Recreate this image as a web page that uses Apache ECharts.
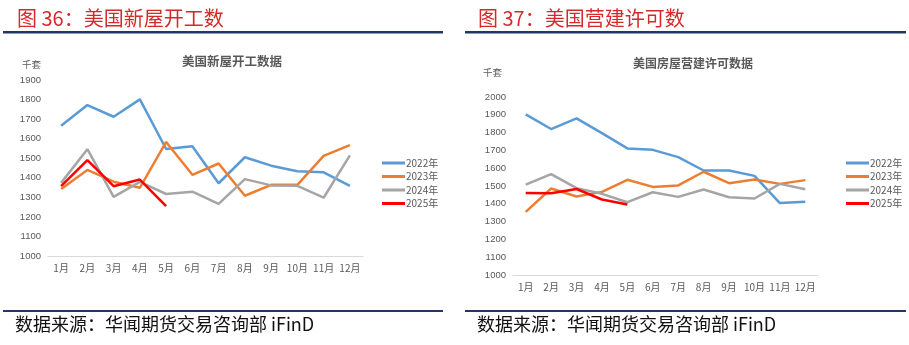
<!DOCTYPE html>
<html><head><meta charset="utf-8">
<script src="https://cdn.jsdelivr.net/npm/echarts@6/dist/echarts.min.js"></script>
<style>html,body{margin:0;padding:0;background:#fff}#c{width:909px;height:345px}</style>
</head><body><div id="c"></div>
<script>
const months = ['1月','2月','3月','4月','5月','6月','7月','8月','9月','10月','11月','12月'];
const years = ['2022年','2023年','2024年','2025年'];
// 美国新屋开工 (千套)
const starts2022 = [1666,1772,1712,1801,1547,1561,1372,1505,1462,1433,1428,1359];
const starts2023 = [1343,1440,1380,1349,1583,1415,1473,1308,1364,1364,1512,1567];
const starts2024 = [1374,1546,1302,1379,1317,1329,1267,1393,1361,1359,1298,1515];
const starts2025 = [1357,1490,1357,1391,1255];
// 美国营建许可 (千套)
const permits2022 = [1902,1820,1880,1797,1711,1703,1662,1587,1587,1557,1404,1411];
const permits2023 = [1355,1486,1441,1467,1535,1495,1503,1580,1516,1536,1512,1533];
const permits2024 = [1508,1567,1488,1456,1409,1465,1439,1480,1437,1430,1512,1482];
const permits2025 = [1461,1459,1483,1424,1396];
const leftYTicks = {min:1000, max:1900, interval:100};
const rightYTicks = {min:1000, max:2000, interval:100};

const colors = ['#5b9bd5','#ed7d31','#a5a5a5','#ff0000'];
const cjk = '"Noto Sans CJK SC", sans-serif';
const chart = echarts.init(document.getElementById('c'));
function mkSeries(arrs, idx){
  return arrs.map((d,i)=>({
    name: years[i], type:'line', xAxisIndex:idx, yAxisIndex:idx, data:d,
    symbol:'none', smooth:false, z: i===3?5:2,
    lineStyle:{width:2.5, color:colors[i]}, itemStyle:{color:colors[i]}
  }));
}
function xAx(idx){return {type:'category', gridIndex:idx, data:months, boundaryGap:true,
  axisLine:{lineStyle:{color:'#d9d9d9'}}, axisTick:{show:false},
  axisLabel:{color:'#595959', fontSize:10, fontFamily:cjk, margin:7, interval:0}};}
function yAx(idx, t){return {type:'value', gridIndex:idx, min:t.min, max:t.max, interval:t.interval,
  splitLine:{show:false}, axisLine:{show:false}, axisTick:{show:false},
  axisLabel:{color:'#595959', fontSize:9.5, fontFamily:'"Liberation Sans", sans-serif', margin:7,
    formatter:v=>String(v)}};}
function legend(left){return {data:years, orient:'vertical', left:left, top:153, itemWidth:23, itemHeight:3,
  icon:'rect', itemGap:3.5, textStyle:{color:'#595959', fontSize:10, fontFamily:cjk, padding:[0,0,0,-4]}, selectedMode:false};}

chart.setOption({
  animation:false,
  color:colors,
  title:[
    {text:'美国新屋开工数据', left:227, top:50, textAlign:'center', textStyle:{fontSize:12.5, fontWeight:'bold', color:'#595959', fontFamily:cjk}},
    {text:'美国房屋营建许可数据', left:688, top:52, textAlign:'center', textStyle:{fontSize:12, fontWeight:'bold', color:'#595959', fontFamily:cjk}}
  ],
  grid:[
    {left:48, right:546, top:80, bottom:89},
    {left:513, right:91, top:97, bottom:70}
  ],
  xAxis:[xAx(0), xAx(1)],
  yAxis:[yAx(0,leftYTicks), yAx(1,rightYTicks)],
  legend:[legend(377), legend(841)],
  series:[...mkSeries([starts2022,starts2023,starts2024,starts2025],0),
          ...mkSeries([permits2022,permits2023,permits2024,permits2025],1)],
  graphic:[
    {type:'text', left:17, top:8, style:{text:'图 36：美国新屋开工数', fill:'#d42a2a', font:'20px '+cjk}},
    {type:'text', left:478, top:8, style:{text:'图 37：美国营建许可数', fill:'#d42a2a', font:'20px '+cjk}},
    {type:'rect', shape:{x:3, y:31, width:440, height:2.5}, style:{fill:'#1f3864'}},
    {type:'rect', shape:{x:465, y:31, width:441, height:2.5}, style:{fill:'#1f3864'}},
    {type:'rect', shape:{x:3, y:310, width:440, height:2}, style:{fill:'#1f3864'}},
    {type:'rect', shape:{x:465, y:310, width:441, height:2}, style:{fill:'#1f3864'}},
    {type:'text', left:15, top:315, style:{text:'数据来源：华闻期货交易咨询部 iFinD', fill:'#111', font:'18px '+cjk}},
    {type:'text', left:477, top:315, style:{text:'数据来源：华闻期货交易咨询部 iFinD', fill:'#111', font:'18px '+cjk}},
    {type:'text', left:22, top:60, style:{text:'千套', fill:'#595959', font:'9.5px '+cjk}},
    {type:'text', left:483, top:68, style:{text:'千套', fill:'#595959', font:'9.5px '+cjk}}
  ]
});
</script></body></html>
